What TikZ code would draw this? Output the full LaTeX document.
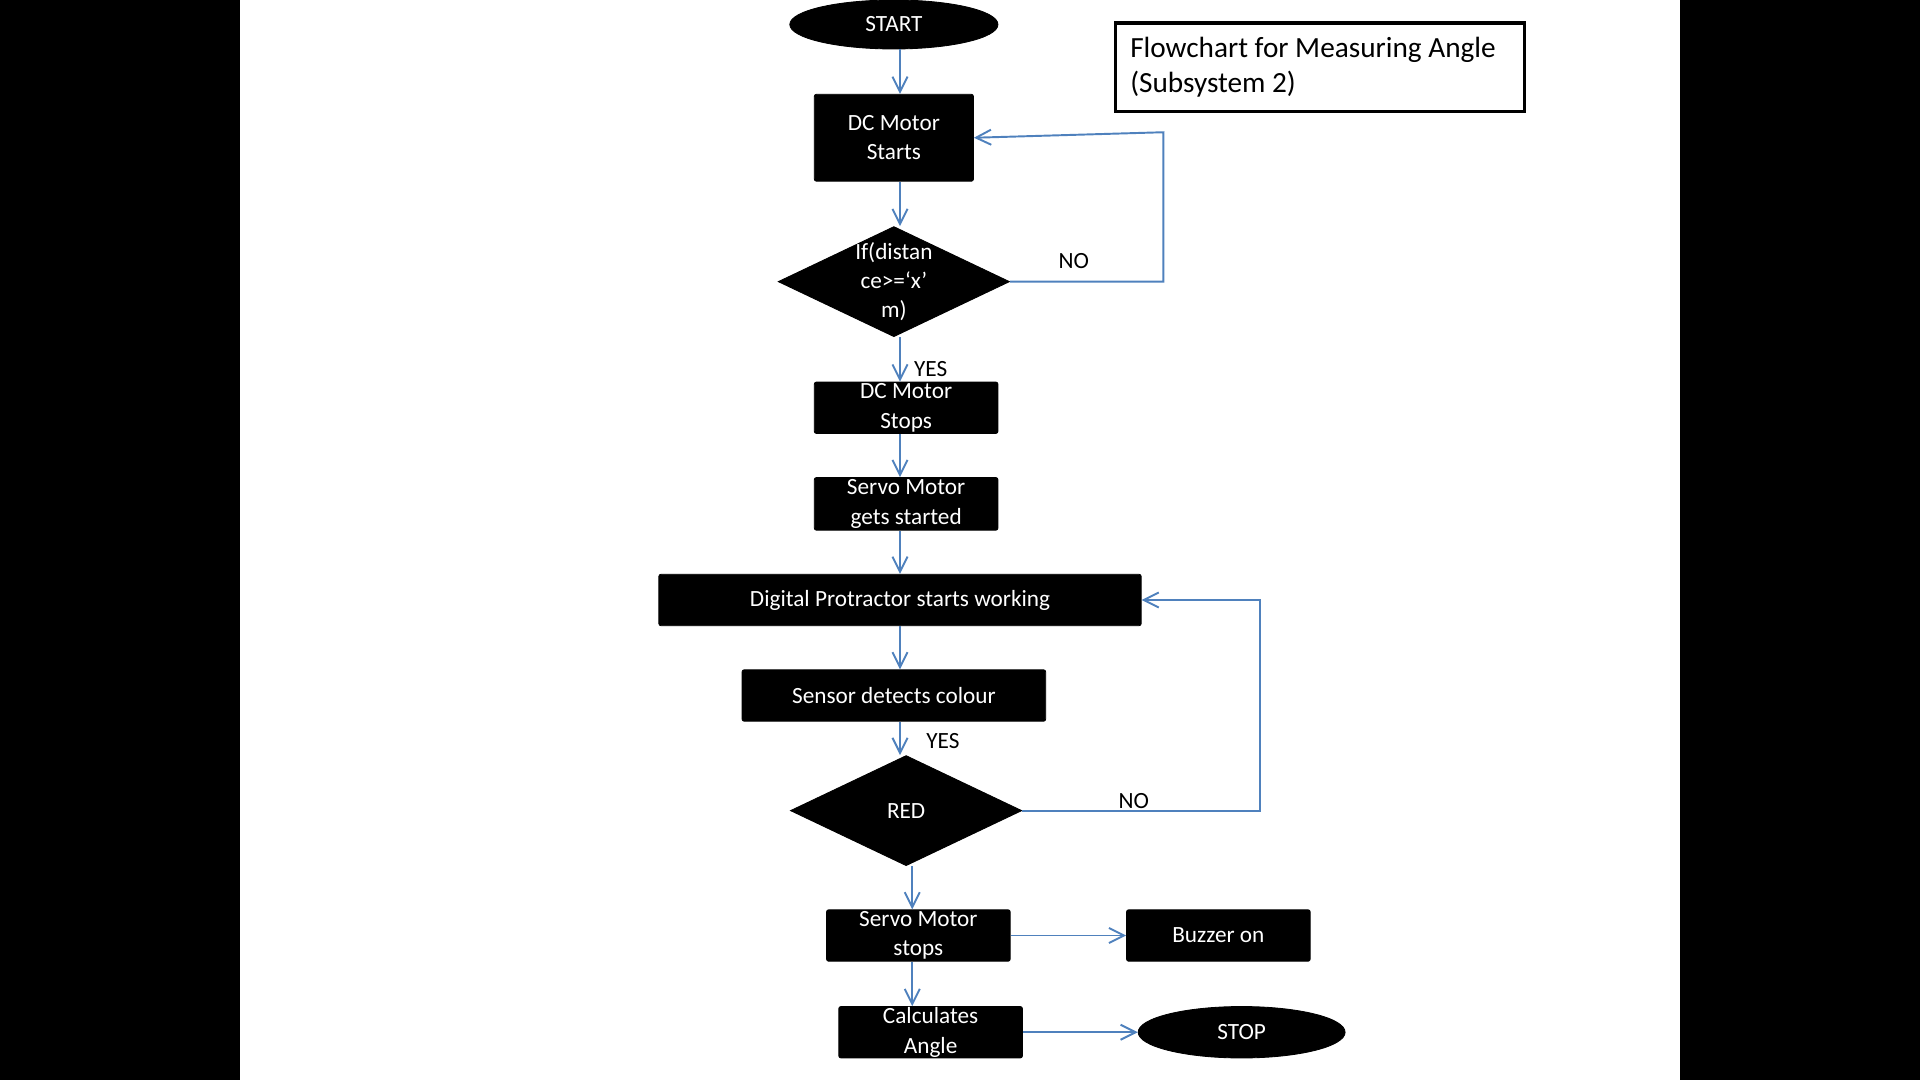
\documentclass[tikz,border=0pt]{standalone}
\usepackage{fontspec}
\setmainfont{Carlito}
\usetikzlibrary{shapes.geometric,arrows.meta}
\definecolor{flowblue}{HTML}{4F81BD}
\begin{document}
\begin{tikzpicture}[x=0.02cm,y=-0.02cm,
every node/.style={font=\fontsize{10.8}{13.7}\selectfont},
blk/.style={draw=black,fill=black,text=white,rounded corners=1pt,align=center,inner xsep=2pt,inner ysep=-4pt},
term/.style={ellipse,draw=black,fill=black,text=white,inner sep=0pt},
dec/.style={diamond,draw=black,fill=black,text=white,inner sep=0pt,minimum width=3.78cm,minimum height=1.8cm},
flow/.style={draw=flowblue,line width=0.9pt,-{Straight Barb[length=7pt,width=7pt]}},
lbl/.style={text=black,inner sep=0pt}]
\fill(0,0)rectangle(196,882);
\fill(1372,0)rectangle(1568,882);
\useasboundingbox(0,0)rectangle(1568,882);
\node[term,minimum width=3.4cm,minimum height=0.8cm](start)at(730,20){START};
\node[blk,minimum width=2.6cm,minimum height=1.42cm](dcstart)at(730,112.5){DC Motor\\Starts};
\node[dec,label={[text=white,align=center]center:{If(distan\\ce>=‘x’\\m)}}](dist)at(730,230){};
\node[blk,minimum width=3cm,minimum height=0.84cm](dcstop)at(740,333){DC Motor\\Stops};
\node[blk,minimum width=3cm,minimum height=0.86cm](servostart)at(740,411.5){Servo Motor\\gets started};
\node[blk,minimum width=7.88cm,minimum height=0.84cm](protractor)at(735,490){Digital Protractor starts working};
\node[blk,minimum width=4.96cm,minimum height=0.84cm](sensor)at(730,568){Sensor detects colour};
\node[dec](red)at(740,662){RED};
\node[blk,minimum width=3cm,minimum height=0.84cm](servostop)at(750,764){Servo Motor\\stops};
\node[blk,minimum width=3cm,minimum height=0.84cm](buzzer)at(995,764){Buzzer on};
\node[blk,minimum width=3cm,minimum height=0.84cm](calc)at(760,843){Calculates\\Angle};
\node[term,minimum width=3.38cm,minimum height=0.84cm](stop)at(1014,843){STOP};
\node[draw=black,line width=1.7pt,text width=6.2cm,inner xsep=0.24cm,minimum height=1.44cm,align=flush left,font=\fontsize{13.6}{16.5}\selectfont](title)at(1078,55){Flowchart for Measuring Angle\\(Subsystem 2)};
\coordinate(spine)at(735,0);
\coordinate(spinelow)at(745,0);
\coordinate(loopa)at(950,108);
\coordinate(loopb)at(1029,490);
\foreach \a/\b in {start/dcstart,dcstart/dist,dist/dcstop,dcstop/servostart,servostart/protractor,protractor/sensor,sensor/red}{\draw[flow](\a.south-|spine)--(\b.north-|spine);}
\foreach \a/\b in {red/servostop,servostop/calc}{\draw[flow](\a.south-|spinelow)--(\b.north-|spinelow);}
\draw[flow](servostop)--(buzzer);
\draw[flow](calc)--(stop);
\draw[flow](dist.east)-|(loopa)--(dcstart.east);
\draw[flow](red.east)-|(loopb)--(protractor.east);
\node[lbl](nofirst)at(877,213){NO};
\node[lbl](yesfirst)at(760,301){YES};
\node[lbl](yessecond)at(770,605){YES};
\node[lbl](nosecond)at(926,654){NO};
\end{tikzpicture}
\end{document}
